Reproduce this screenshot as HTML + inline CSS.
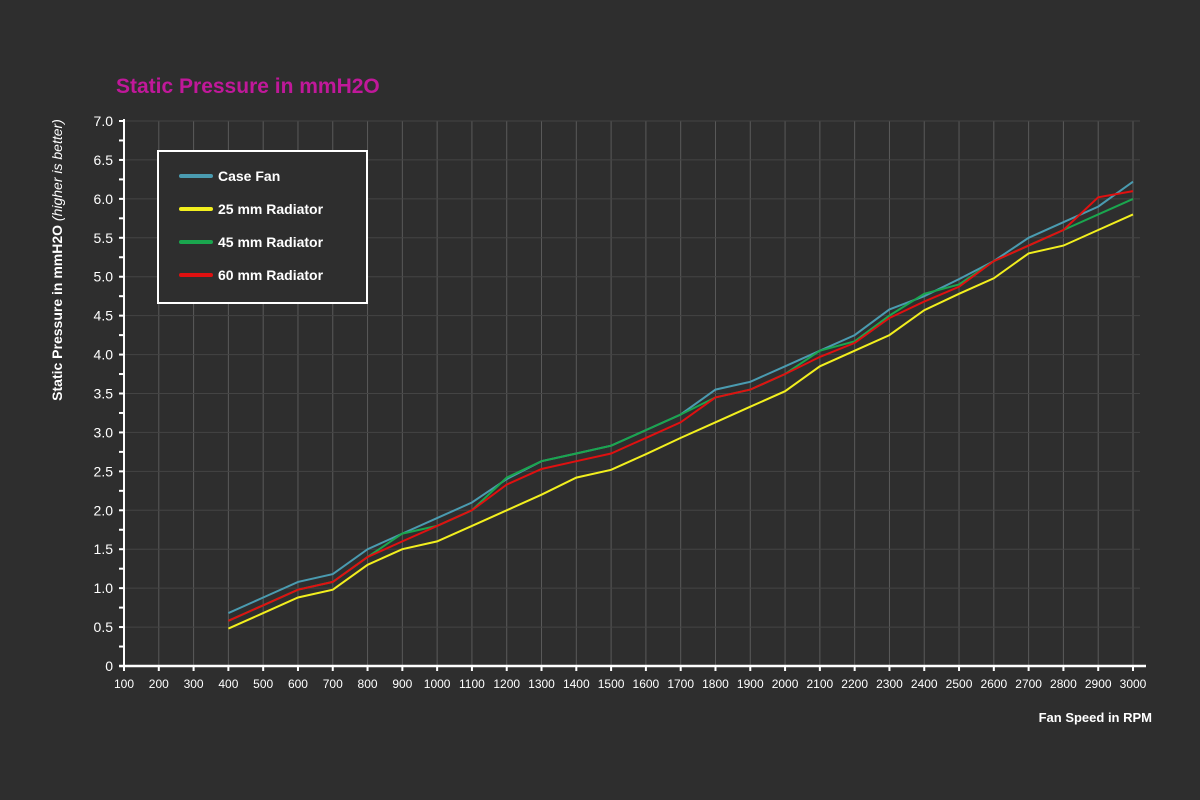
<!DOCTYPE html>
<html><head><meta charset="utf-8"><style>
html,body{margin:0;padding:0;background:#2e2e2e;}
svg{display:block;font-family:"Liberation Sans",sans-serif;}
</style></head><body>
<svg id="s" width="1200" height="800" xmlns="http://www.w3.org/2000/svg">
<rect width="1200" height="800" fill="#2e2e2e"/>
<text x="116" y="93" fill="#c0189a" font-size="21" font-weight="bold">Static Pressure in mmH2O</text>
<text transform="translate(62,260) rotate(-90)" text-anchor="middle" fill="#fff" font-size="14" font-weight="bold">Static Pressure in mmH2O <tspan font-weight="normal" font-style="italic">(higher is better)</tspan></text>
<text x="1152" y="722" text-anchor="end" fill="#fff" font-size="13" font-weight="bold">Fan Speed in RPM</text>
<g id="g"></g>
<rect x="158" y="151" width="209" height="152" fill="#2e2e2e" stroke="#fff" stroke-width="2"/>
<g font-size="14" font-weight="bold" fill="#fff">
<line x1="181" y1="176" x2="211" y2="176" stroke="#4a9bb0" stroke-width="4" stroke-linecap="round"/><text x="218" y="181">Case Fan</text>
<line x1="181" y1="209" x2="211" y2="209" stroke="#f2ef1e" stroke-width="4" stroke-linecap="round"/><text x="218" y="214">25 mm Radiator</text>
<line x1="181" y1="242" x2="211" y2="242" stroke="#1aa64e" stroke-width="4" stroke-linecap="round"/><text x="218" y="247">45 mm Radiator</text>
<line x1="181" y1="275" x2="211" y2="275" stroke="#e01010" stroke-width="4" stroke-linecap="round"/><text x="218" y="280">60 mm Radiator</text>
</g>
</svg>
<script>
var g=document.getElementById('g'),h='';
function X(r){return 124+(r-100)*1009/2900;}
function Y(v){return 666-v*545/7;}
for(var r=200;r<=3000;r+=100){h+='<line x1="'+X(r)+'" y1="121" x2="'+X(r)+'" y2="666" stroke="#5a5a5a" stroke-width="1"/>';}
for(var v=0.5;v<=7.01;v+=0.5){h+='<line x1="124" y1="'+Y(v)+'" x2="1140" y2="'+Y(v)+'" stroke="#444" stroke-width="1"/>';}
h+='<line x1="124" y1="119" x2="124" y2="667" stroke="#fff" stroke-width="2"/>';
h+='<line x1="119" y1="666" x2="1146" y2="666" stroke="#fff" stroke-width="2.5"/>';
for(var v=0;v<=7.01;v+=0.25){h+='<line x1="119" y1="'+Y(v)+'" x2="124" y2="'+Y(v)+'" stroke="#fff" stroke-width="2"/>';}
for(var v=0;v<=7.01;v+=0.5){h+='<text x="113" y="'+(Y(v)+5)+'" text-anchor="end" fill="#fff" font-size="14">'+(v==0?'0':v.toFixed(1))+'</text>';}
for(var r=100;r<=3000;r+=100){h+='<line x1="'+X(r)+'" y1="666" x2="'+X(r)+'" y2="671" stroke="#fff" stroke-width="2"/><text x="'+X(r)+'" y="688" text-anchor="middle" fill="#fff" font-size="12">'+r+'</text>';}
var S=[
['#f2ef1e',[0.48,0.68,0.88,0.98,1.3,1.5,1.6,1.8,2.0,2.2,2.42,2.52,2.72,2.93,3.13,3.33,3.53,3.85,4.05,4.25,4.57,4.78,4.98,5.3,5.4,5.6,5.8]],
['#4a9bb0',[0.68,0.88,1.08,1.18,1.5,1.7,1.9,2.1,2.4,2.63,2.73,2.83,3.03,3.23,3.55,3.65,3.85,4.05,4.25,4.58,4.75,4.97,5.2,5.5,5.7,5.9,6.22]],
['#1aa64e',[0.58,0.78,0.98,1.08,1.4,1.7,1.8,2.0,2.42,2.63,2.73,2.83,3.03,3.23,3.45,3.55,3.75,4.05,4.17,4.5,4.78,4.9,5.2,5.4,5.6,5.8,6.0]],
['#e01010',[0.58,0.78,0.98,1.08,1.4,1.6,1.8,2.0,2.33,2.53,2.63,2.73,2.93,3.13,3.45,3.55,3.75,3.97,4.15,4.47,4.68,4.87,5.2,5.4,5.6,6.02,6.1]]];
S.forEach(function(s){var p=s[1].map(function(v,i){return X(400+i*100).toFixed(1)+','+Y(v).toFixed(1);}).join(' ');
h+='<polyline points="'+p+'" fill="none" stroke="'+s[0]+'" stroke-width="2"/>';});
g.innerHTML=h;
</script>
</body></html>
